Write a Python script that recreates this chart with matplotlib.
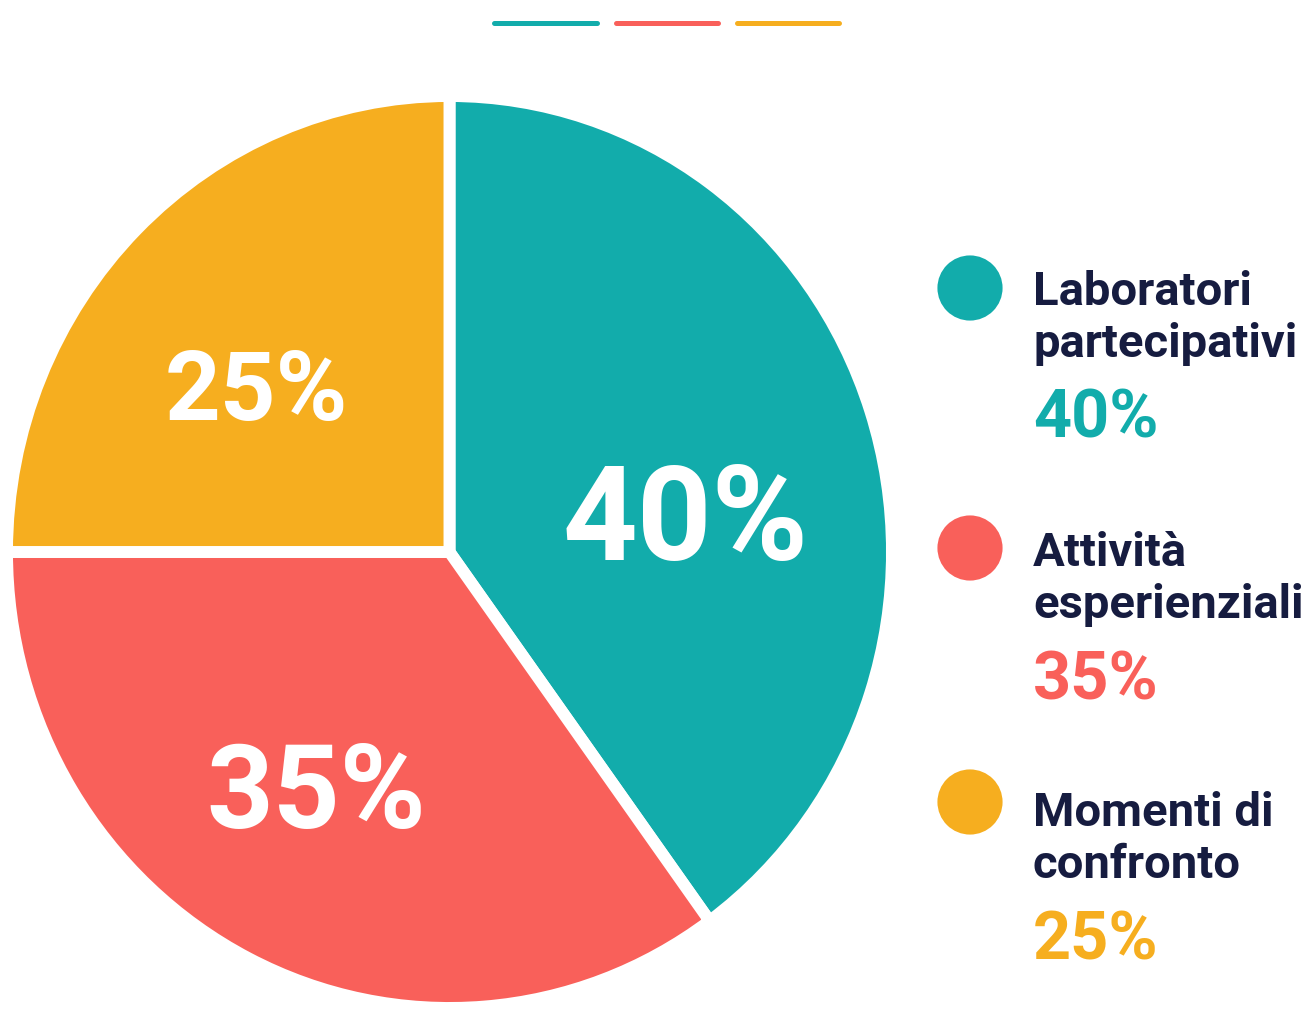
import matplotlib
matplotlib.use("Agg")
import matplotlib.pyplot as plt

# data
categories = ["Laboratori\npartecipativi", "Attività\nesperienziali", "Momenti di\nconfronto"]
values = [40, 35, 25]
colors = ["#12ACAB", "#F9605A", "#F6AE1F"]
navy = "#161C40"

plt.rcParams["font.family"] = ["Roboto", "Liberation Sans", "DejaVu Sans"]
plt.rcParams["font.weight"] = "bold"

W, H = 1304, 1010
fig = plt.figure(figsize=(W / 100, H / 100), dpi=100)

# pie axes, slightly taller than wide like the original
cx, cy, rx, ry = 449.5, 552, 442.5, 456
pax = fig.add_axes([(cx - rx) / W, (H - cy - ry) / H, 2 * rx / W, 2 * ry / H])
pax.pie(values, colors=colors, startangle=90, counterclock=False,
        wedgeprops=dict(edgecolor="white", linewidth=8.6))
pax.set_aspect("auto")
pax.set_xlim(-1, 1)
pax.set_ylim(-1, 1)
pax.axis("off")

# overlay in pixel coordinates
ax = fig.add_axes([0, 0, 1, 1])
ax.set_xlim(0, W)
ax.set_ylim(H, 0)
ax.axis("off")

# labels inside the wedges
label_pos = [(685, 560, 94), (316, 828, 84), (256, 420, 70)]
for v, (x, y, fs) in zip(values, label_pos):
    ax.text(x, y, f"{v}%", color="white", fontsize=fs, fontweight="bold",
            ha="center", va="baseline")

# top decoration lines
seg_x = [(494, 597), (616, 718), (737, 839)]
for (x0, x1), c in zip(seg_x, colors):
    ax.plot([x0, x1], [23, 23], color=c, lw=3.6, solid_capstyle="round")

# legend
base_y = [305, 566, 826]
circ_y = [288, 548, 802]
for cat, v, c, by, ccy in zip(categories, values, colors, base_y, circ_y):
    ax.scatter([970], [ccy], s=2200, color=c, edgecolors="none")
    l1, l2 = cat.split("\n")
    ax.text(1033, by, l1, color=navy, fontsize=34, fontweight="bold", va="baseline")
    ax.text(1033, by + 52, l2, color=navy, fontsize=34, fontweight="bold", va="baseline")
    ax.text(1033, by + 133, f"{v}%", color=c, fontsize=48, fontweight="bold", va="baseline")

fig.savefig("out.png", dpi=100, facecolor="white")
